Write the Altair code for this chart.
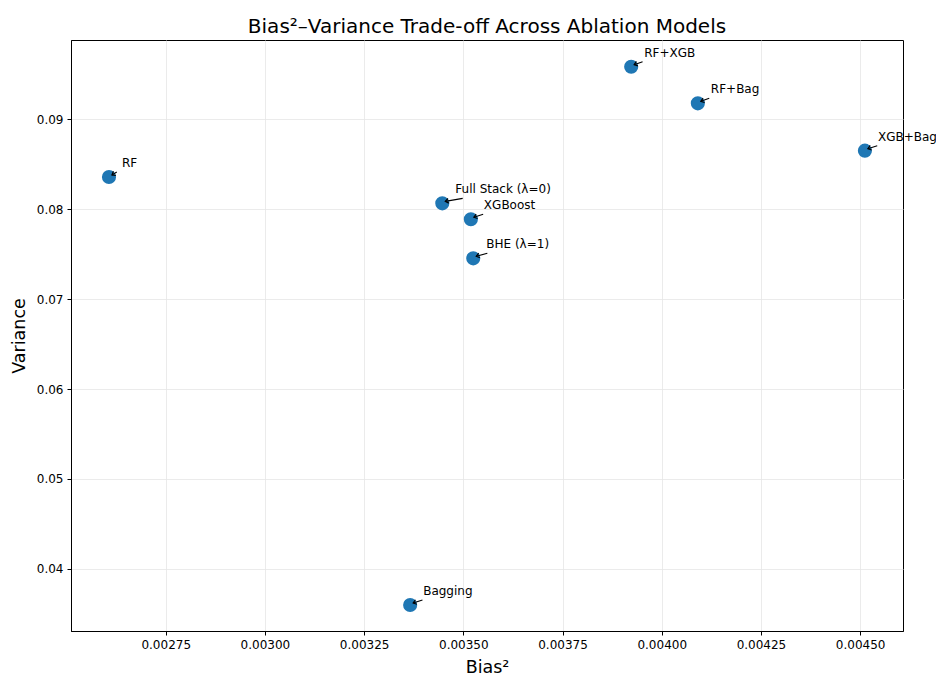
import math
import altair as alt
import pandas as pd

# Ablation models: squared bias vs. variance
labels = ["RF", "Bagging", "XGBoost", "RF+XGB", "RF+Bag", "XGB+Bag",
          "Full Stack (λ=0)", "BHE (λ=1)"]
bias2 = [0.002607, 0.003366, 0.003519, 0.003923, 0.004091, 0.004512,
         0.003447, 0.003525]
variance = [0.08356, 0.03600, 0.07886, 0.09581, 0.09174, 0.08648,
            0.08063, 0.07452]

x_ticks = [0.00275, 0.00300, 0.00325, 0.00350, 0.00375, 0.00400, 0.00425, 0.00450]
y_ticks = [0.04, 0.05, 0.06, 0.07, 0.08, 0.09]

FONT = "DejaVu Sans"

df = pd.DataFrame({"label": labels, "bias2": bias2, "variance": variance})

# annotation arrow: runs from below the label's left part down to the point
TIP_DX, TIP_DY = 3, -2
df["sdx"] = [6 + 0.9 * len(s) for s in labels]
df["sdy"] = -5
df["ang"] = [
    math.degrees(math.atan2(TIP_DY - sdy, TIP_DX - sdx)) % 360
    for sdx, sdy in zip(df["sdx"], df["sdy"])
]

x_enc = alt.X("bias2:Q",
              scale=alt.Scale(domain=[0.0025113, 0.004608], nice=False, zero=False),
              axis=alt.Axis(values=x_ticks, format=".5f", title="Bias²"))
y_enc = alt.Y("variance:Q",
              scale=alt.Scale(domain=[0.03311, 0.09878], nice=False, zero=False),
              axis=alt.Axis(values=y_ticks, format=".2f", title="Variance"))

base = alt.Chart(df)

points = base.mark_circle(size=200, color="#1f77b4", opacity=1).encode(
    x=x_enc, y=y_enc
)

texts = base.mark_text(align="left", baseline="alphabetic", dx=13, dy=-10,
                       font=FONT, fontSize=12, color="black").encode(
    x="bias2:Q", y="variance:Q", text="label:N"
)

layers = [points, texts]
# shafts: one rule per label so start offsets follow the label width
for i, row in df.iterrows():
    shaft = alt.Chart(df.iloc[[i]]).mark_rule(
        color="black", strokeWidth=1.1,
        xOffset=float(row["sdx"]), yOffset=float(row["sdy"]),
        x2Offset=TIP_DX, y2Offset=TIP_DY,
    ).encode(x="bias2:Q", y="variance:Q", x2="bias2:Q", y2="variance:Q")
    layers.append(shaft)

heads = base.mark_point(
    shape="M -1 -0.75 L 0 0 L -1 0.75", filled=False, color="black",
    strokeWidth=1.2, size=40, opacity=1, xOffset=TIP_DX, yOffset=TIP_DY,
).encode(x="bias2:Q", y="variance:Q", angle=alt.Angle("ang:Q", scale=None))
layers.append(heads)

chart = alt.layer(*layers).properties(
    width=832, height=591,
    autosize=alt.AutoSizeParams(type="none"),
    padding={"left": 71, "top": 40, "right": 33, "bottom": 44},
    title=alt.TitleParams("Bias²–Variance Trade-off Across Ablation Models",
                          font=FONT, fontSize=20, fontWeight="normal",
                          color="black", anchor="middle", offset=3),
).configure_view(
    stroke="black", strokeWidth=1
).configure_axis(
    labelFont=FONT, labelFontSize=12, labelColor="black",
    titleFont=FONT, titleFontSize=17.5, titleFontWeight="normal", titleColor="black",
    tickColor="black", tickSize=4, tickWidth=1,
    domainColor="black", domainWidth=1,
    gridColor="#e6e6e6", gridWidth=0.8, labelPadding=4,
).configure_axisX(titlePadding=8).configure_axisY(titlePadding=8)

chart.save("out.html", embed_options={"renderer": "svg", "actions": False})
